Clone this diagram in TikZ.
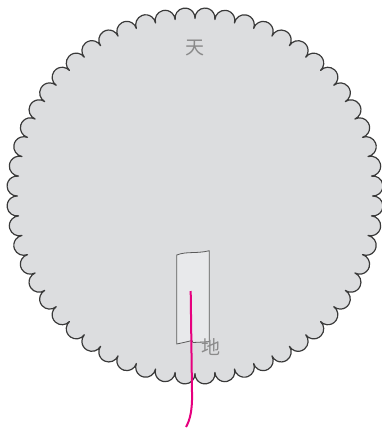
\documentclass[tikz,border=0pt]{standalone}
\usepackage{fontspec}
\usetikzlibrary{calc}
\newfontfamily\cjk{Noto Sans CJK SC}
\definecolor{discfill}{HTML}{DCDDDF}
\definecolor{discline}{HTML}{3A3A3A}
\definecolor{stripfill}{HTML}{E8E9EB}
\definecolor{stripline}{HTML}{5A5A5A}
\definecolor{threadcol}{HTML}{E6007E}
\definecolor{labelcol}{HTML}{8A8A8A}
\tikzset{
  disc/.style={fill=discfill, draw=discline, line width=1.2pt, line join=round},
  strip/.style={fill=stripfill, draw=stripline, line width=0.8pt, line join=round},
  thread/.style={draw=threadcol, line width=2pt},
  cjklabel/.style={text=labelcol, font=\cjk\fontsize{19}{19}\selectfont, inner sep=0pt}
}
\begin{document}
\begin{tikzpicture}[x=1pt,y=-1pt]
\useasboundingbox (0,0) rectangle (382,432);
% scalloped disc: 56 outward bumps
\def\N{56}
\pgfmathsetmacro{\alph}{180/\N}
\path[disc] ($(195,196)+(-90:177.5)$)
  \foreach \i in {0,...,55} {
    arc[start angle={-90+2*\alph*\i+\alph-95.6}, end angle={-90+2*\alph*\i+\alph+95.6}, radius=10.0]
  } -- cycle;
\node[cjklabel] (tian) at (195,47.5) {天};
% paper strip
\coordinate (s1) at (176.7,255);
\coordinate (s2) at (209.3,250.7);
\coordinate (s3) at (209.3,341.7);
\coordinate (s4) at (176.7,344);
\path[strip] (s1) .. controls (187,251) and (196,254) .. (s2) -- (s3)
  -- (193,342.5) -- (192,340.5) .. controls (186,342) .. (s4) -- cycle;
\node[cjklabel] (di) at (210.5,347) {地};
% thread
\coordinate (t1) at (190.7,291);
\coordinate (t2) at (192,392);
\coordinate (t3) at (186,427);
\draw[thread] (t1) -- (t2) .. controls (192.5,410) and (190,420) .. (t3);
\end{tikzpicture}
\end{document}
